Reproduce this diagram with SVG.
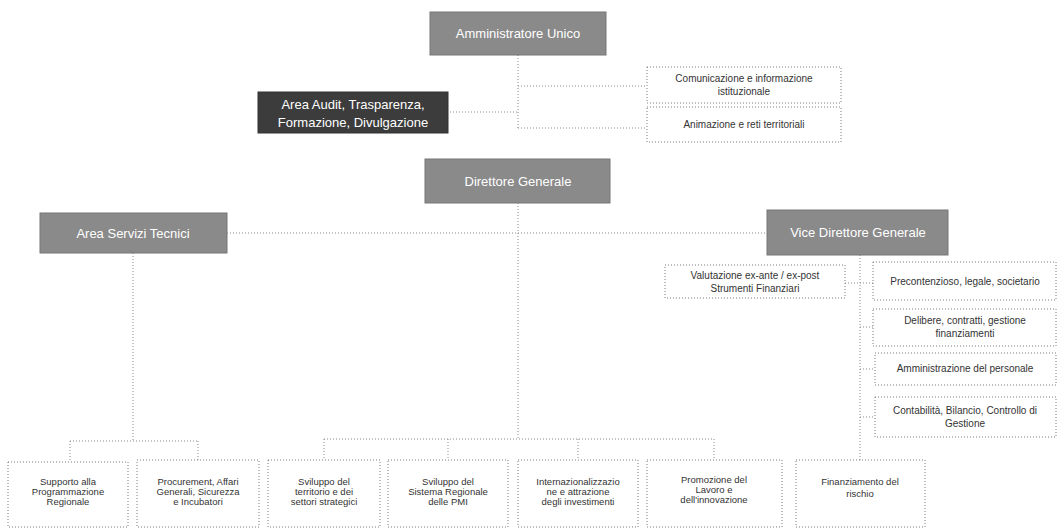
<svg xmlns="http://www.w3.org/2000/svg" width="1058" height="529" viewBox="0 0 1058 529">
<style>
.g{fill:#8a8a8a;stroke:#777;stroke-width:1}
.dk{fill:#3c3c3c;stroke:#333;stroke-width:1}
.w{fill:#fff;stroke:#7a7a7a;stroke-width:1;stroke-dasharray:1 2}
.tw{font-family:"Liberation Sans",Arial,sans-serif;font-size:13px;fill:#fff;text-anchor:middle}
.tb{font-family:"Liberation Sans",Arial,sans-serif;font-size:10px;fill:#333;text-anchor:middle}
.ts{font-family:"Liberation Sans",Arial,sans-serif;font-size:9.5px;fill:#333;text-anchor:middle}
.c{fill:none;stroke:#8a8a8a;stroke-width:1;stroke-dasharray:1 2}
</style>
<rect width="1058" height="529" fill="#fff"/>
<g id="connectors">
<path class="c" d="M518 55V128M518 86H647M447 112H518M518 128H647"/>
<path class="c" d="M518 203V440M227 233H767"/>
<path class="c" d="M133 253V441M70 441H198M70 441V462M198 441V460"/>
<path class="c" d="M324 439H714M324 439V460M448 439V460M578 439V460M714 439V460"/>
<path class="c" d="M860 255V460M845 283H873M860 327H873M860 369H875M860 417H875"/>
</g>
<g id="amministratore"><rect class="g" x="430" y="12" width="176" height="43"/><text class="tw" x="518" y="38">Amministratore Unico</text></g>
<g id="audit"><rect class="dk" x="258" y="92" width="190" height="41"/><text class="tw" x="353" y="109">Area Audit,  Trasparenza,</text><text class="tw" x="353" y="127">Formazione, Divulgazione</text></g>
<g id="comunicazione"><rect class="w" x="647" y="67" width="194" height="36"/><text class="tb" x="744" y="82">Comunicazione e informazione</text><text class="tb" x="744" y="95">istituzionale</text></g>
<g id="animazione"><rect class="w" x="647" y="107" width="194" height="35"/><text class="tb" x="744" y="128">Animazione e reti territoriali</text></g>
<g id="direttore"><rect class="g" x="425" y="159" width="185" height="44"/><text class="tw" x="518" y="186">Direttore Generale</text></g>
<g id="servizi-tecnici"><rect class="g" x="40" y="213" width="187" height="40"/><text class="tw" x="133" y="238">Area Servizi Tecnici</text></g>
<g id="vice-direttore"><rect class="g" x="767" y="210" width="181" height="45"/><text class="tw" x="858" y="237">Vice Direttore Generale</text></g>
<g id="valutazione"><rect class="w" x="665" y="265" width="180" height="33"/><text class="tb" x="755" y="279">Valutazione ex-ante / ex-post</text><text class="tb" x="755" y="292">Strumenti Finanziari</text></g>
<g id="precontenzioso"><rect class="w" x="873" y="262" width="183" height="38"/><text class="tb" x="965" y="285">Precontenzioso, legale, societario</text></g>
<g id="delibere"><rect class="w" x="873" y="309" width="183" height="37"/><text class="tb" x="965" y="324">Delibere, contratti, gestione</text><text class="tb" x="965" y="337">finanziamenti</text></g>
<g id="personale"><rect class="w" x="875" y="353" width="181" height="32"/><text class="tb" x="965" y="372">Amministrazione del personale</text></g>
<g id="contabilita"><rect class="w" x="875" y="397" width="181" height="40"/><text class="tb" x="965" y="414">Contabilità, Bilancio, Controllo di</text><text class="tb" x="965" y="427">Gestione</text></g>
<g id="supporto"><rect class="w" x="8" y="462" width="120" height="65"/><text class="ts" x="68" y="485">Supporto alla</text><text class="ts" x="68" y="495">Programmazione</text><text class="ts" x="68" y="505">Regionale</text></g>
<g id="procurement"><rect class="w" x="137" y="460" width="122" height="67"/><text class="ts" x="198" y="485">Procurement, Affari</text><text class="ts" x="198" y="495">Generali, Sicurezza</text><text class="ts" x="198" y="505">e Incubatori</text></g>
<g id="sviluppo-territorio"><rect class="w" x="268" y="460" width="112" height="67"/><text class="ts" x="324" y="485">Sviluppo del</text><text class="ts" x="324" y="495">territorio e dei</text><text class="ts" x="324" y="505">settori strategici</text></g>
<g id="sviluppo-pmi"><rect class="w" x="388" y="460" width="120" height="67"/><text class="ts" x="448" y="485">Sviluppo del</text><text class="ts" x="448" y="495">Sistema Regionale</text><text class="ts" x="448" y="505">delle PMI</text></g>
<g id="internazionalizzazione"><rect class="w" x="518" y="460" width="120" height="67"/><text class="ts" x="578" y="485">Internazionalizzazio</text><text class="ts" x="578" y="495">ne e attrazione</text><text class="ts" x="578" y="505">degli investimenti</text></g>
<g id="promozione"><rect class="w" x="647" y="460" width="135" height="67"/><text class="ts" x="714" y="483">Promozione  del</text><text class="ts" x="714" y="493">Lavoro e</text><text class="ts" x="714" y="503">dell'innovazione</text></g>
<g id="finanziamento"><rect class="w" x="796" y="460" width="129" height="67"/><text class="ts" x="860" y="485">Finanziamento del</text><text class="ts" x="860" y="497">rischio</text></g>
</svg>
